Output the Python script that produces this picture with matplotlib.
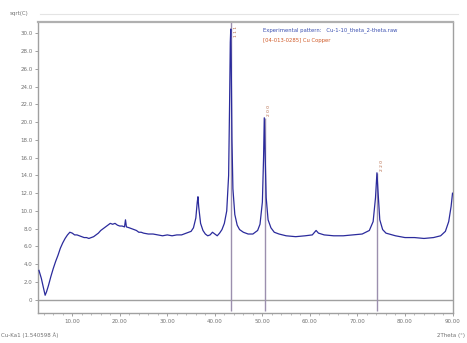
import matplotlib.pyplot as plt
from matplotlib.ticker import MultipleLocator

# experimental pattern (2theta in deg, sqrt(counts))
two_theta = [3.0, 3.5, 4.0, 4.3, 4.6, 5.0, 5.5, 6.0, 6.5, 7.0, 7.5, 8.0, 8.5, 9.0,
             9.5, 10.0, 10.5, 11.0, 11.5, 12.0, 12.5, 13.0, 13.5, 14.0, 14.5, 15.0,
             15.5, 16.0, 16.5, 17.0, 17.5, 18.0, 18.5, 19.0, 19.5, 20.0, 20.5, 21.0,
             21.2, 21.4, 22.0, 22.5, 23.0, 23.5, 24.0, 24.5, 25.0, 26.0, 27.0, 28.0,
             29.0, 30.0, 31.0, 32.0, 33.0, 34.0, 35.0, 35.5, 36.0, 36.3, 36.45, 36.6,
             37.0, 37.5, 38.0, 38.5, 39.0, 39.5, 40.0, 40.5, 41.0, 41.5, 42.0, 42.5,
             42.9, 43.1, 43.25, 43.35, 43.45, 43.6, 43.8, 44.2, 44.7, 45.2, 46.0, 47.0,
             48.0, 49.0, 49.5, 50.0, 50.25, 50.4, 50.55, 50.8, 51.2, 51.8, 52.5, 53.5,
             55.0, 57.0, 59.0, 60.5, 61.3, 61.8, 63.0, 65.0, 67.0, 69.0, 71.0, 72.5,
             73.3, 73.8, 74.1, 74.35, 74.7, 75.3, 76.0, 78.0, 80.0, 82.0, 84.0, 86.0,
             87.5, 88.5, 89.2, 89.7, 90.0]
intensity = [3.3, 2.4, 1.2, 0.5, 0.9, 1.6, 2.6, 3.5, 4.3, 5.0, 5.8, 6.4, 6.9, 7.3,
             7.6, 7.5, 7.3, 7.3, 7.2, 7.1, 7.0, 7.0, 6.9, 7.0, 7.1, 7.3,
             7.5, 7.8, 8.0, 8.2, 8.4, 8.6, 8.5, 8.6, 8.4, 8.3, 8.3, 8.2,
             9.0, 8.2, 8.1, 8.0, 7.9, 7.8, 7.6, 7.6, 7.5, 7.4, 7.4, 7.3,
             7.2, 7.3, 7.2, 7.3, 7.3, 7.5, 7.7, 8.1, 9.2, 11.0, 11.6, 10.5,
             8.6, 7.8, 7.4, 7.2, 7.3, 7.6, 7.4, 7.2, 7.5, 7.9, 8.6, 10.0,
             14.0, 22.0, 29.0, 30.5, 26.5, 18.0, 12.5, 9.6, 8.4, 7.9, 7.6, 7.4,
             7.4, 7.8, 8.5, 11.0, 16.0, 20.5, 17.0, 11.5, 9.0, 8.1, 7.6, 7.4,
             7.2, 7.1, 7.2, 7.3, 7.8, 7.5, 7.3, 7.2, 7.2, 7.3, 7.4, 7.8,
             8.8, 11.5, 14.3, 12.0, 9.0, 7.9, 7.5, 7.2, 7.0, 7.0, 6.9, 7.0,
             7.2, 7.7, 8.8, 10.5, 12.0]

# reference pattern sticks (Cu)
ref_pos = [43.32, 50.45, 74.12]
ref_height = [31.5, 20.5, 14.3]
ref_hkl = ["1 1 1", "2 0 0", "2 2 0"]

grey = "#a0a0a0"
label_col = "#707070"

fig = plt.figure(figsize=(4.67, 3.43), dpi=100)
ax = fig.add_axes([0.0814, 0.0875, 0.8886, 0.8485])

ax.axhline(0, color=grey, lw=1.0, zorder=1)
ax.vlines(ref_pos, -1.3, ref_height, color="#9c8fae", lw=1.0, zorder=2)
ax.plot(two_theta, intensity, color="#2b2b9c", lw=0.9, zorder=3)

for pos, h, hkl in zip(ref_pos, ref_height, ref_hkl):
    if h > 30:
        ax.text(pos + 0.8, 30.9, hkl, rotation=90, fontsize=3.2,
                color="#b0603c", ha="left", va="top")
    else:
        ax.text(pos + 0.6, h + 0.2, hkl, rotation=90, fontsize=3.2,
                color="#b0603c", ha="left", va="bottom")

ax.set_xlim(2.8, 90.1)
ax.set_ylim(-1.5, 31.3)
ax.xaxis.set_major_locator(MultipleLocator(10))
ax.xaxis.set_minor_locator(MultipleLocator(2))
ax.yaxis.set_major_locator(MultipleLocator(2))
ax.set_xticks(range(10, 91, 10))
ax.set_xticklabels([f"{v:.2f}" for v in range(10, 91, 10)])
ax.set_yticks(range(0, 31, 2))
ax.set_yticklabels(["0"] + [f"{v:.1f}" for v in range(2, 31, 2)])
ax.tick_params(axis="both", labelsize=4, colors=grey, labelcolor=label_col,
               length=2.5, width=0.7, pad=1.5)
ax.tick_params(axis="x", which="minor", length=1.5, width=0.5, colors=grey)

for side in ["left", "bottom", "right"]:
    ax.spines[side].set_color(grey)
    ax.spines[side].set_linewidth(1.0)
ax.spines["top"].set_color("#b0b0b0")
ax.spines["top"].set_linewidth(1.6)

ax.text(0.542, 0.973, "Experimental pattern:   Cu-1-10_theta_2-theta.raw",
        transform=ax.transAxes, fontsize=3.8, color="#3a4fb0", va="center")
ax.text(0.542, 0.937, "[04-013-0285] Cu Copper",
        transform=ax.transAxes, fontsize=3.8, color="#d05a28", va="center")

fig.add_artist(plt.Line2D([0.085, 0.98], [0.959, 0.959], color="#e4e4e4", lw=0.8))
fig.text(0.021, 0.962, "sqrt(C)", fontsize=4, color=label_col, va="center")
fig.text(0.002, 0.022, "Cu-Ka1 (1.540598 \u00c5)", fontsize=4, color=label_col, va="center")
fig.text(0.995, 0.022, "2Theta (\u00b0)", fontsize=4, color=label_col,
         va="center", ha="right")

plt.savefig("out.png", dpi=100)
